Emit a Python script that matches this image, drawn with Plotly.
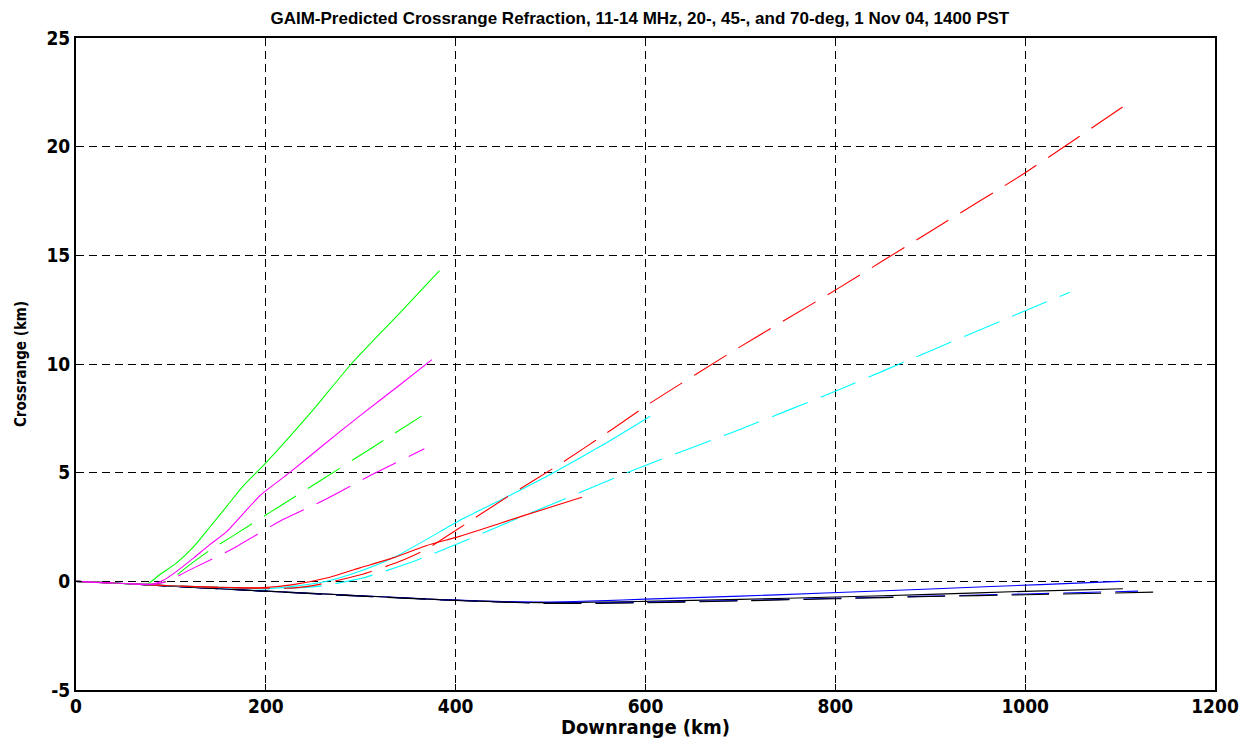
import plotly.graph_objects as go

# ---------------- data (km) ----------------
green_solid_x = [0, 40, 75, 88, 106, 124, 141, 159, 176, 200, 250, 290, 340, 383]
green_solid_y = [0, -0.08, -0.12, 0.3, 0.85, 1.6, 2.5, 3.46, 4.38, 5.45, 7.9, 10.0, 12.3, 14.3]

magenta_solid_x = [0, 40, 80, 92, 106, 124, 141, 159, 194, 225, 260, 300, 340, 375]
magenta_solid_y = [0, -0.08, -0.14, 0.05, 0.46, 1.08, 1.69, 2.3, 3.95, 5.0, 6.25, 7.65, 9.0, 10.2]

green_dash_x = [0, 40, 80, 95, 105, 118, 140, 165, 204, 258, 312, 364]
green_dash_y = [0, -0.08, -0.13, 0.0, 0.25, 0.7, 1.4, 2.08, 3.16, 4.65, 6.15, 7.6]

magenta_dash_x = [0, 40, 85, 100, 110, 121, 165, 218, 261, 315, 367]
magenta_dash_y = [0, -0.08, -0.12, 0.05, 0.3, 0.55, 1.5, 2.84, 3.73, 4.98, 6.1]

red_solid_x = [0, 50, 100, 150, 194, 229, 264, 299, 334, 369, 404, 470, 533]
red_solid_y = [0, -0.1, -0.2, -0.27, -0.3, -0.15, 0.15, 0.62, 1.08, 1.64, 2.07, 3.0, 3.87]

red_dash_x = [0, 50, 100, 150, 200, 230, 255, 300, 340, 370, 402, 455, 510, 565, 605, 700, 800, 900, 1000, 1112]
red_dash_y = [0, -0.1, -0.2, -0.28, -0.32, -0.3, -0.15, 0.3, 0.9, 1.5, 2.4, 3.9, 5.4, 7.0, 8.2, 10.8, 13.4, 16.1, 18.8, 22.1]

cyan_solid_x = [0, 50, 100, 150, 200, 229, 264, 299, 334, 369, 404, 450, 503, 552, 605]
cyan_solid_y = [0, -0.1, -0.2, -0.28, -0.33, -0.23, 0.0, 0.46, 1.08, 1.92, 2.8, 3.8, 5.0, 6.2, 7.6]

cyan_dash_x = [0, 50, 100, 150, 200, 255, 301, 359, 413, 471, 529, 589, 700, 800, 900, 1000, 1047]
cyan_dash_y = [0, -0.1, -0.2, -0.28, -0.35, -0.23, 0.14, 0.97, 1.93, 3.0, 4.05, 5.15, 7.0, 8.75, 10.6, 12.45, 13.3]

blue_solid_x = [0, 50, 100, 173, 200, 300, 383, 450, 500, 550, 600, 700, 789, 900, 1016, 1100]
blue_solid_y = [0, -0.1, -0.22, -0.39, -0.45, -0.66, -0.84, -0.93, -0.95, -0.9, -0.82, -0.68, -0.54, -0.35, -0.15, 0.0]

black_solid_x = [0, 50, 100, 200, 300, 383, 489, 600, 700, 800, 900, 1000, 1103]
black_solid_y = [0, -0.1, -0.22, -0.45, -0.66, -0.84, -0.98, -0.92, -0.83, -0.72, -0.6, -0.46, -0.34]

blue_dash_x = [0, 50, 100, 200, 300, 400, 500, 600, 700, 800, 900, 1000, 1119]
blue_dash_y = [0, -0.1, -0.22, -0.46, -0.68, -0.87, -1.0, -0.96, -0.88, -0.78, -0.68, -0.58, -0.45]

black_dash_x = [0, 50, 100, 200, 300, 400, 500, 600, 700, 800, 900, 1000, 1142]
black_dash_y = [0, -0.1, -0.22, -0.46, -0.68, -0.88, -1.02, -0.99, -0.9, -0.8, -0.7, -0.62, -0.49]

x_ticks = [0, 200, 400, 600, 800, 1000, 1200]
y_ticks = [-5, 0, 5, 10, 15, 20, 25]

title_text = "GAIM-Predicted Crossrange Refraction, 11-14 MHz, 20-, 45-, and 70-deg, 1 Nov 04, 1400 PST"
x_title = "Downrange (km)"
y_title = "Crossrange (km)"

# ---------------- figure ----------------
series = [
    (blue_solid_x, blue_solid_y, "#0000ff", "solid"),
    (black_solid_x, black_solid_y, "#000000", "solid"),
    (blue_dash_x, blue_dash_y, "#0000ff", "dash"),
    (black_dash_x, black_dash_y, "#000000", "dash"),
    (cyan_solid_x, cyan_solid_y, "#00ffff", "solid"),
    (cyan_dash_x, cyan_dash_y, "#00ffff", "dash"),
    (red_solid_x, red_solid_y, "#ff0000", "solid"),
    (red_dash_x, red_dash_y, "#ff0000", "dash"),
    (green_solid_x, green_solid_y, "#00ff00", "solid"),
    (green_dash_x, green_dash_y, "#00ff00", "dash"),
    (magenta_solid_x, magenta_solid_y, "#ff00ff", "solid"),
    (magenta_dash_x, magenta_dash_y, "#ff00ff", "dash"),
]

fig = go.Figure()
for xs, ys, col, sty in series:
    fig.add_trace(go.Scatter(
        x=xs, y=ys, mode="lines", line_shape="spline",
        line=dict(color=col, width=1.1, smoothing=0.6,
                  dash="solid" if sty == "solid" else "38px,14px"),
        showlegend=False, hoverinfo="skip",
    ))

cond = "DejaVu Sans Condensed, Liberation Sans Narrow, Arial Narrow, sans-serif"
tick_font = dict(family=cond, size=19, color="black", weight="bold")

fig.update_layout(
    width=1240, height=739,
    margin=dict(l=76, r=25, t=38, b=49, autoexpand=False),
    paper_bgcolor="white", plot_bgcolor="white",
    title=dict(text=title_text, xref="container", x=0.516, xanchor="center",
               yref="container", y=0.984, yanchor="top",
               font=dict(family="Liberation Sans, Arial, sans-serif", size=17,
                         color="black", weight="bold")),
    xaxis=dict(range=[0, 1200], tickvals=x_ticks, ticktext=[str(v) for v in x_ticks],
               showline=True, linecolor="black", linewidth=2, mirror="ticks",
               ticks="inside", ticklen=6, tickcolor="black", tickwidth=1,
               showgrid=True, gridcolor="black", gridwidth=1, griddash="8px,5px",
               zeroline=False, tickfont=tick_font, ticklabeloverflow="allow",
               ticklabelstandoff=-2,
               title=dict(text=x_title, standoff=3,
                          font=dict(family=cond, size=20, color="black", weight="bold"))),
    yaxis=dict(range=[-5, 25], tickvals=y_ticks, ticktext=[str(v) for v in y_ticks],
               showline=True, linecolor="black", linewidth=2, mirror="ticks",
               ticks="inside", ticklen=6, tickcolor="black", tickwidth=1,
               showgrid=True, gridcolor="black", gridwidth=1, griddash="8px,5px",
               zeroline=False, tickfont=tick_font, ticklabeloverflow="allow",
               title=dict(text=y_title, standoff=16,
                          font=dict(family=cond, size=15, color="black", weight="bold"))),
)

fig.write_html("out.html", config={"displayModeBar": False},
               post_script="document.body.style.margin='0px';document.body.style.overflow='hidden';")
